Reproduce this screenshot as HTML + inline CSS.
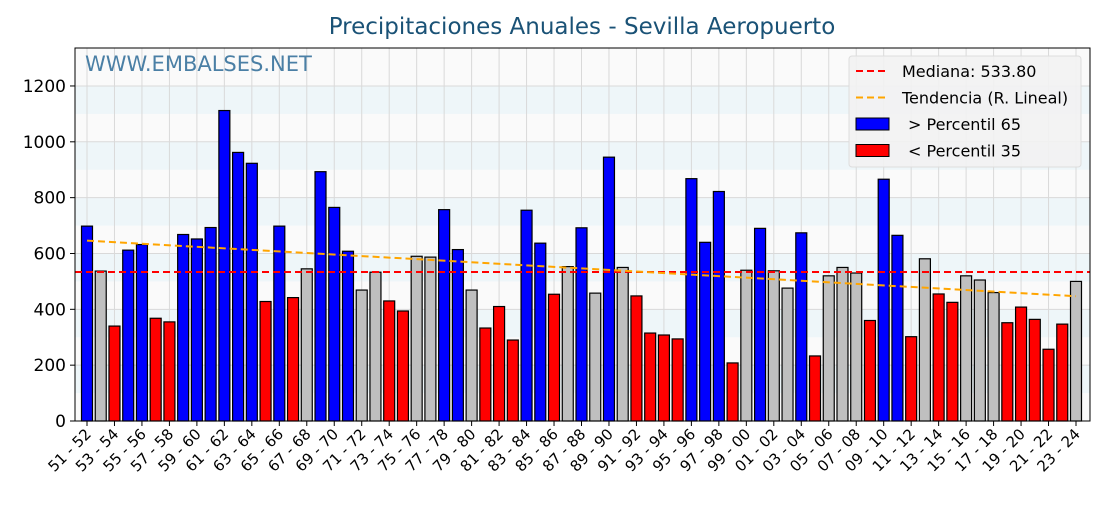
<!DOCTYPE html>
<html><head><meta charset="utf-8"><style>
body{margin:0;background:#fff;font-family:"Liberation Sans","DejaVu Sans",sans-serif;}
svg text{font-family:"DejaVu Sans","Liberation Sans",sans-serif;}
</style></head><body>
<svg id="c" width="1120" height="500" xmlns="http://www.w3.org/2000/svg">
<text x="582" y="34" text-anchor="middle" font-size="23" fill="#1a5276">Precipitaciones Anuales - Sevilla Aeropuerto</text>
<g id="plot"></g>
</svg>
<script>
const years=["51 - 52","52 - 53","53 - 54","54 - 55","55 - 56","56 - 57","57 - 58","58 - 59","59 - 60","60 - 61","61 - 62","62 - 63","63 - 64","64 - 65","65 - 66","66 - 67","67 - 68","68 - 69","69 - 70","70 - 71","71 - 72","72 - 73","73 - 74","74 - 75","75 - 76","76 - 77","77 - 78","78 - 79","79 - 80","80 - 81","81 - 82","82 - 83","83 - 84","84 - 85","85 - 86","86 - 87","87 - 88","88 - 89","89 - 90","90 - 91","91 - 92","92 - 93","93 - 94","94 - 95","95 - 96","96 - 97","97 - 98","98 - 99","99 - 00","00 - 01","01 - 02","02 - 03","03 - 04","04 - 05","05 - 06","06 - 07","07 - 08","08 - 09","09 - 10","10 - 11","11 - 12","12 - 13","13 - 14","14 - 15","15 - 16","16 - 17","17 - 18","18 - 19","19 - 20","20 - 21","21 - 22","22 - 23","23 - 24"];
const rain=[698,537,340,612,632,368,355,668,652,693,1112,962,923,428,698,442,545,893,765,608,469,533,430,394,590,587,757,614,469,333,410,290,755,637,454,553,692,458,945,550,448,315,308,294,868,640,822,208,540,690,538,476,674,233,520,550,530,360,866,665,302,581,455,425,520,505,460,352,408,364,257,347,500];
const category=["b","g","r","b","b","r","r","b","b","b","b","b","b","r","b","r","g","b","b","b","g","g","r","r","g","g","b","b","g","r","r","r","b","b","r","g","b","g","b","g","r","r","r","r","b","b","b","r","g","b","g","g","b","r","g","g","g","r","b","b","r","g","r","r","g","g","g","r","r","r","r","r","g"];
const median=533.8;
const trendStart=646, trendEnd=447;
const yTicks=[0,200,400,600,800,1000,1200];

const NS="http://www.w3.org/2000/svg";
const L=75,R=1090,T=48,B=421,YMAX=1336;
const n=years.length;
const step=(1076-87)/(n-1);
const xs=i=>87+i*step;
const ys=v=>B-(v/YMAX)*(B-T);
const g=document.getElementById('plot');
function mk(tag,attrs,parent){const e=document.createElementNS(NS,tag);for(const k in attrs)e.setAttribute(k,attrs[k]);(parent||g).appendChild(e);return e;}
const bg=mk('rect',{x:L,y:T,width:R-L,height:B-T,fill:'#fafafa'});


for(let v=100;v<1300;v+=200){const b=mk('rect',{x:L,y:ys(v+100),width:R-L,height:ys(v)-ys(v+100),fill:'#eef6f9'});

}
yTicks.forEach(v=>{const l=mk('line',{x1:L,x2:R,y1:ys(v),y2:ys(v),stroke:'#d9d9d9','stroke-width':1});


mk('line',{x1:L-5,x2:L,y1:ys(v),y2:ys(v),stroke:'#000'});
const t=mk('text',{x:L-9,y:ys(v)+6,'text-anchor':'end','font-size':17,fill:'#000'});t.textContent=v;

});
for(let i=0;i<n;i+=2){const l=mk('line',{x1:xs(i),x2:xs(i),y1:T,y2:B,stroke:'#d9d9d9'});

}
const colors={b:'#0000ff',r:'#ff0000',g:'#bfbfbf'};
const bw=step*0.8;
rain.forEach((v,i)=>{const r=mk('rect',{x:xs(i)-bw/2,y:ys(v),width:bw,height:B-ys(v),fill:colors[category[i]],stroke:'#000','stroke-width':1.2});

});
const ml=mk('line',{x1:L,x2:R,y1:ys(median),y2:ys(median),stroke:'#ff0000','stroke-width':2,'stroke-dasharray':'7,4'});


const tl=mk('line',{x1:xs(0),x2:xs(n-1),y1:ys(trendStart),y2:ys(trendEnd),stroke:'#ffa500','stroke-width':2,'stroke-dasharray':'7,4'});


const fr=mk('rect',{x:L,y:T,width:R-L,height:B-T,fill:'none',stroke:'#000','stroke-width':1});


for(let i=0;i<n;i+=2){mk('line',{x1:xs(i),x2:xs(i),y1:B,y2:B+5,stroke:'#000'});
const t=mk('text',{x:0,y:0,'text-anchor':'end','font-size':15,fill:'#000',transform:`translate(${xs(i)+5},${B+14}) rotate(-45)`});t.textContent=years[i];

}
const wm=mk('text',{x:85,y:71,'font-size':21,fill:'#4a7fa5'});wm.textContent='WWW.EMBALSES.NET';


const lg=mk('g',{});


mk('rect',{x:849,y:56,width:232,height:111,rx:3,fill:'#f2f2f2','fill-opacity':0.9,stroke:'#ddd'},lg);
const items=[['line','#ff0000','Mediana: 533.80',902],['line','#ffa500','Tendencia (R. Lineal)',902],['rect','#0000ff','> Percentil 65',908],['rect','#ff0000','< Percentil 35',908]];
items.forEach((it,k)=>{const y=71+k*26.5;
if(it[0]=='line')mk('line',{x1:856,x2:888,y1:y,y2:y,stroke:it[1],'stroke-width':2,'stroke-dasharray':'7,4'},lg);
else mk('rect',{x:856,y:y-6,width:33,height:12,fill:it[1],stroke:'#000'},lg);
const t=mk('text',{x:it[3],y:y+6,'font-size':16,fill:'#000'},lg);t.textContent=it[2];

});
</script>
</body></html>
